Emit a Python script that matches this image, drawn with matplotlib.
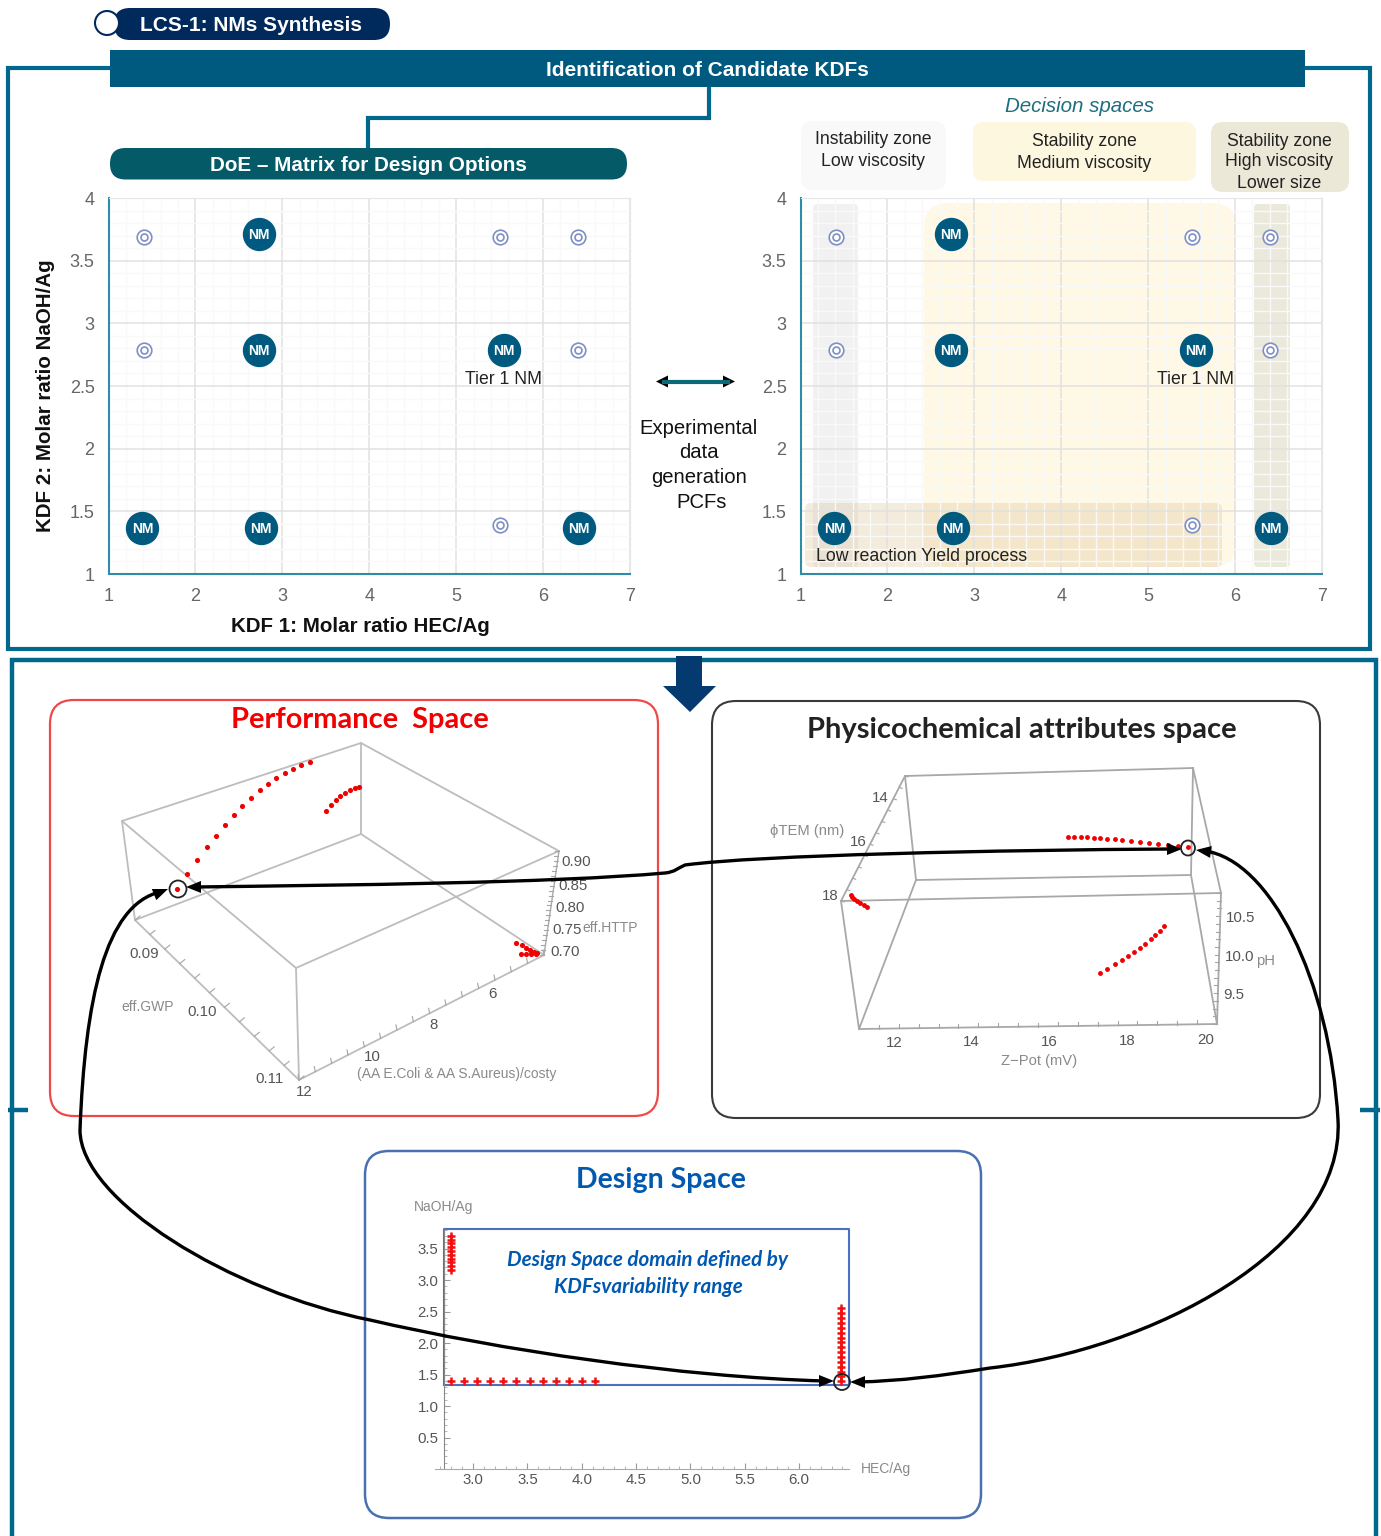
"""
LCS-1 figure: DoE matrix, decision spaces and the linked performance,
physicochemical and design spaces
"""

import matplotlib
matplotlib.use('Agg')
import matplotlib.pyplot as plt
import numpy as np
from matplotlib.patches import Circle, Ellipse, FancyBboxPatch, PathPatch, Polygon, Rectangle
from matplotlib.path import Path
from matplotlib.ticker import MultipleLocator

plt.rcParams['font.family'] = ['Liberation Sans', 'DejaVu Sans']

W, H = 1381, 1536

TEAL = '#00688c'
BAR = '#005a80'
NAVY = '#012a5c'
PILL = '#055a68'
RING = '#7f8fc4'
GREY = '#8a8a8a'
BOX = '#bdbdbd'

# DoE matrix
nm_x = [2.73, 2.73, 5.55, 1.39, 2.75, 6.41]
nm_y = [3.71, 2.79, 2.79, 1.37, 1.37, 1.37]
open_x = [1.41, 5.5, 6.4, 1.41, 6.4, 5.5]
open_y = [3.69, 3.69, 3.69, 2.79, 2.79, 1.39]
doe_xticks = [1, 2, 3, 4, 5, 6, 7]
doe_yticks = [1, 1.5, 2, 2.5, 3, 3.5, 4]
doe_ylabels = ['1', '1.5', '2', '2.5', '3', '3.5', '4']

# Performance space
perf_arc_x = [187, 197, 207, 216, 225, 234, 242, 251, 260, 268, 276, 285, 293, 301, 310]
perf_arc_y = [874, 860, 847, 836, 825, 815, 806, 798, 790, 784, 778, 773, 769, 765, 762]
perf_back_x = [326, 331, 336, 340, 345, 350, 355, 359]
perf_back_y = [811, 805, 800, 796, 793, 790, 788, 787]
perf_corner_x = [516, 522, 526, 530, 534, 537, 521, 526, 531, 536]
perf_corner_y = [943, 945, 948, 950, 952, 953, 954, 954, 954, 954]
perf_sel = (177, 889)

# Physicochemical space
phys_top_x = [1068, 1074, 1081, 1087, 1094, 1100, 1107, 1115, 1122, 1131, 1140, 1149, 1158, 1168, 1178, 1188]
phys_top_y = [837, 837, 837, 837, 838, 838, 839, 839, 840, 841, 842, 843, 844, 845, 846, 847]
phys_mid_x = [1100, 1107, 1115, 1122, 1128, 1134, 1140, 1145, 1151, 1155, 1160, 1164]
phys_mid_y = [973, 969, 964, 960, 956, 952, 948, 944, 939, 935, 931, 926]
phys_left_x = [851, 852, 854, 857, 860, 864, 867]
phys_left_y = [895, 897, 899, 901, 903, 905, 907]

# Design space
ds_col1_x = [2.80] * 10
ds_col1_y = [3.70, 3.64, 3.58, 3.52, 3.46, 3.40, 3.34, 3.28, 3.22, 3.16]
ds_row_x = [2.80, 2.92, 3.04, 3.16, 3.28, 3.40, 3.52, 3.64, 3.76, 3.88, 4.00, 4.12]
ds_row_y = [1.39] * 12
ds_col2_x = [6.39] * 16
ds_col2_y = [1.39, 1.47, 1.54, 1.62, 1.70, 1.78, 1.85, 1.93, 2.01, 2.08, 2.16, 2.24, 2.31, 2.39, 2.47, 2.55]
ds_xticks = [3.0, 3.5, 4.0, 4.5, 5.0, 5.5, 6.0]
ds_yticks = [0.5, 1.0, 1.5, 2.0, 2.5, 3.0, 3.5]
ds_box_x = [2.733, 6.46]
ds_box_y = [1.33, 3.81]


def px_axes(x0, y0, x1, y1, zorder=1):
    ax = fig.add_axes([x0 / W, 1 - y1 / H, (x1 - x0) / W, (y1 - y0) / H], zorder=zorder)
    ax.patch.set_alpha(0)
    return ax


def rounded(ax, x0, y0, x1, y1, r, **kw):
    patch = FancyBboxPatch((x0 + r, y0 + r), x1 - x0 - 2 * r, y1 - y0 - 2 * r,
                           boxstyle=f'round,pad={r},rounding_size={r}', **kw)
    ax.add_patch(patch)
    return patch


def polyline(ax, pts, color=TEAL, lw=3.0, **kw):
    ax.plot([p[0] for p in pts], [p[1] for p in pts], color=color, lw=lw,
            solid_capstyle='butt', solid_joinstyle='miter', **kw)


def doe_panel(ax):
    ax.set_xlim(1, 7)
    ax.set_ylim(1, 4)
    ax.set_xticks(doe_xticks)
    ax.set_yticks(doe_yticks)
    ax.set_yticklabels(doe_ylabels)
    ax.xaxis.set_minor_locator(MultipleLocator(0.2))
    ax.yaxis.set_minor_locator(MultipleLocator(0.1))
    ax.grid(True, which='major', color='#e1e1e1', lw=1.1)
    ax.grid(True, which='minor', color='#f9f9f9', lw=1.0)
    ax.set_axisbelow(True)
    ax.tick_params(which='both', length=0, labelcolor='#666666', labelsize=13)
    ax.tick_params(axis='x', pad=10)
    ax.tick_params(axis='y', pad=10)
    for side in ['top', 'right']:
        ax.spines[side].set_color('#e6e6e6')
    for side in ['left', 'bottom']:
        ax.spines[side].set_color('#2e8ca8')
        ax.spines[side].set_linewidth(1.5)

    ax.plot(open_x, open_y, 'o', ms=10.5, mfc='white', mec=RING, mew=1.2, ls='none', clip_on=False)
    ax.plot(open_x, open_y, 'o', ms=5, mfc='none', mec=RING, mew=1.2, ls='none', clip_on=False)
    ax.plot(nm_x, nm_y, 'o', ms=23, color=BAR, mec=BAR, ls='none', clip_on=False)
    for x, y in zip(nm_x, nm_y):
        ax.text(x, y - 0.008, 'NM', ha='center', va='center', color='white', fontsize=10, fontweight='bold')
    ax.text(nm_x[2] - 0.01, 2.555, 'Tier 1 NM', ha='center', va='center', fontsize=12.7, color='#222222')


def box_edges(ax, edges, color=BOX, lw=1.3):
    for a, b in edges:
        ax.plot([a[0], b[0]], [a[1], b[1]], color=color, lw=lw, solid_capstyle='round')


def edge_ticks(ax, a, b, n, offset, lw=0.8, color='#a5a5a5'):
    a = np.array(a, float)
    b = np.array(b, float)
    for t in np.linspace(0, 1, n):
        p = a + (b - a) * t
        ax.plot([p[0], p[0] + offset[0]], [p[1], p[1] + offset[1]], color=color, lw=lw)


def arrow_head(ax, tip, towards, length=15, width=6):
    tip = np.array(tip, float)
    d = np.array(towards, float) - tip
    d = d / np.hypot(*d)
    n = np.array([-d[1], d[0]])
    base = tip + d * length
    ax.add_patch(Polygon([tip, base + n * width, base - n * width], closed=True, color='black', lw=0))


def curve(ax, verts):
    codes = [Path.MOVETO] + [Path.CURVE4] * (len(verts) - 1)
    ax.add_patch(PathPatch(Path(verts, codes), fc='none', ec='black', lw=2.4, capstyle='round'))


def labels(ax, items, color='#555555', size=10.8):
    for x, y, s in items:
        ax.text(x, y + 1, s, ha='center', va='center', color=color, fontsize=size)


fig = plt.figure(figsize=(W / 100, H / 100), dpi=100, facecolor='white')

bg = fig.add_axes([0, 0, 1, 1], zorder=0)
bg.set_xlim(0, W)
bg.set_ylim(H, 0)
bg.axis('off')

over = fig.add_axes([0, 0, 1, 1], zorder=5)
over.set_xlim(0, W)
over.set_ylim(H, 0)
over.axis('off')
over.patch.set_alpha(0)

# top frame and headers
polyline(bg, [(110, 68), (8.5, 68), (8.5, 649), (1370, 649), (1370, 68), (1305, 68)])
bg.add_patch(Rectangle((110, 50), 1195, 37, color=BAR, lw=0, zorder=3))
bg.text(707, 70, 'Identification of Candidate KDFs', ha='center', va='center', color='white',
        fontsize=15, fontweight='bold', zorder=4)
rounded(bg, 114, 8, 390, 40, 15.9, fc=NAVY, ec='none')
bg.add_patch(Circle((107, 23), 12, fc='white', ec=NAVY, lw=1.5, zorder=3))
bg.text(251, 25.5, 'LCS-1: NMs Synthesis', ha='center', va='center', color='white',
        fontsize=15, fontweight='bold')
polyline(bg, [(709, 87), (709, 118), (368, 118), (368, 148)])
rounded(bg, 110, 148, 627, 179.5, 15.5, fc=PILL, ec='none')
bg.text(368.5, 165.5, 'DoE – Matrix for Design Options', ha='center', va='center', color='white',
        fontsize=14.9, fontweight='bold')

# decision zones
bg.text(1080, 107, 'Decision spaces', ha='center', va='center', color='#1f6e80', fontsize=14.8, style='italic')
rounded(bg, 801, 121, 946, 190, 12, fc='#f9f9f9', ec='none')
rounded(bg, 973, 122, 1196, 181, 10, fc='#fef7e0', ec='none')
rounded(bg, 1211, 122, 1349, 192, 12, fc='#ebe8d8', ec='none')
labels(bg, [(873, 139, 'Instability zone'), (873, 160, 'Low viscosity'),
            (1084, 141, 'Stability zone'), (1084, 162, 'Medium viscosity'),
            (1279, 140, 'Stability zone'), (1279, 161, 'High viscosity'),
            (1279, 183, 'Lower size')], color='#222222', size=12.7)

rounded(bg, 813, 204, 858, 567, 4, fc='#f1f1f1', ec='none', zorder=1)
rounded(bg, 924, 203, 1236, 567, 24, fc='#fff8e4', ec='none', zorder=1)
rounded(bg, 1254, 204, 1290, 567, 4, fc='#ebe9dc', ec='none', zorder=1)
rounded(bg, 805, 503, 1222, 567, 6, fc='#d8bf8e', ec='none', alpha=0.3, zorder=2)

ax_left = px_axes(108.5, 198, 630, 574)
doe_panel(ax_left)
ax_right = px_axes(800.5, 198, 1322, 574)
doe_panel(ax_right)
ax_right.text(1.18, 1.14, 'Low reaction Yield process', ha='left', va='center', fontsize=12.8, color='#222222')

bg.text(46, 395.5, 'KDF 2: Molar ratio NaOH/Ag', rotation=90, ha='center', va='center', fontsize=14.8, fontweight='bold', color='#111111')
bg.text(360, 626, 'KDF 1: Molar ratio HEC/Ag', ha='center', va='center', fontsize=14.8, fontweight='bold', color='#111111')

bg.plot([664, 728], [381.5, 381.5], color='#0b6a78', lw=3)
arrow_head(bg, (656, 381.5), (728, 381.5), length=12, width=6)
arrow_head(bg, (735, 381.5), (664, 381.5), length=12, width=6)
for y, s, x in [(428.5, 'Experimental', 699), (452.5, 'data', 699), (477.5, 'generation', 699), (502.5, 'PCFs', 702)]:
    bg.text(x, y, s, ha='center', va='center', fontsize=14.6, color='#111111')

# lower frame
polyline(bg, [(12, 1536), (12, 659.5), (1376, 659.5), (1376, 1536)], lw=3.2)
polyline(bg, [(8, 1110), (28, 1110)], lw=3.2)
polyline(bg, [(1360, 1110), (1380, 1110)], lw=3.2)
bg.add_patch(Polygon([(676, 656), (702, 656), (702, 686), (716, 686), (690, 712), (663, 686), (676, 686)],
                     closed=True, color='#053a70', lw=0, zorder=3))

rounded(bg, 50, 700, 658, 1116, 24, fc='none', ec='#f04848', lw=1.6)
rounded(bg, 712, 701, 1320, 1118, 24, fc='none', ec='#3a3a3a', lw=1.5)
rounded(bg, 365, 1151, 981, 1518, 24, fc='none', ec='#4a70b0', lw=1.8)
bg.text(360, 720, 'Performance  Space', ha='center', va='center', color='#f00000', fontsize=20.9,
        fontweight='bold', family='Lato', zorder=4)
bg.text(1022, 730, 'Physicochemical attributes space', ha='center', va='center', color='#222222', fontsize=21,
        fontweight='bold', family='Lato')
bg.text(661, 1180, 'Design Space', ha='center', va='center', color='#0058b0', fontsize=20.5,
        fontweight='bold', family='Lato')

# performance box
A, B, C, D = (122, 821), (361, 743), (559, 851), (296, 968)
E, F, G, K = (135, 920), (361, 834), (544, 955), (299, 1080)
box_edges(bg, [(A, B), (B, C), (C, D), (D, A), (E, F), (F, G), (G, K), (K, E), (A, E), (B, F), (D, K)])
box_edges(bg, [(C, G)], color='#aaaaaa', lw=1.0)
edge_ticks(bg, K, E, 12, (5, -4))
edge_ticks(bg, K, G, 16, (-1, -5))
edge_ticks(bg, C, G, 22, (-4, 0))
labels(bg, [(576, 861, '0.90'), (573, 885, '0.85'), (570, 907, '0.80'), (567, 929, '0.75'), (565, 951, '0.70'),
            (144, 953, '0.09'), (202, 1011, '0.10'), (270, 1078, '0.11'),
            (304, 1091, '12'), (372, 1056, '10'), (434, 1024, '8'), (492, 993, '6')])
labels(bg, [(610, 927, 'eff.HTTP'), (148, 1006, 'eff.GWP'), (457, 1073, '(AA E.Coli & AA S.Aureus)/costy')],
       color=GREY, size=10)
for xs, ys in [(perf_arc_x, perf_arc_y), (perf_back_x, perf_back_y), (perf_corner_x, perf_corner_y)]:
    bg.plot(xs, ys, 'o', ms=3.7, color='#f00000', mew=0, ls='none', zorder=4)
bg.plot(*perf_sel, 'o', ms=3.7, color='#f00000', mew=0, zorder=4)

# physicochemical box
P, Q = (905, 776), (1193, 768)
R, S = (841, 901), (1221, 893)
T, U = (916, 880), (1191, 875)
V, X = (859, 1029), (1217, 1024)
box_edges(bg, [(P, Q), (P, R), (Q, S), (R, S), (R, V), (S, X), (V, X), (P, T), (Q, U), (T, U), (T, V), (U, X)],
          color='#a8a8a8', lw=1.3)
edge_ticks(bg, V, X, 19, (0, -4))
edge_ticks(bg, S, X, 18, (-4, 0))
edge_ticks(bg, R, P, 12, (3, 1))
labels(bg, [(880, 797, '14'), (858, 841, '16'), (830, 895, '18'),
            (894, 1042, '12'), (971, 1041, '14'), (1049, 1041, '16'), (1127, 1040, '18'), (1206, 1039, '20'),
            (1241, 917, '10.5'), (1240, 956, '10.0'), (1234, 994, '9.5')])
labels(bg, [(807, 830, '\u03d5TEM (nm)'), (1039, 1060, 'Z\u2212Pot (mV)'), (1266, 960, 'pH')], color=GREY, size=10.6)
for xs, ys in [(phys_top_x, phys_top_y), (phys_mid_x, phys_mid_y), (phys_left_x, phys_left_y)]:
    bg.plot(xs, ys, 'o', ms=3.5, color='#f00000', mew=0, ls='none', zorder=4)

# design space
ax_ds = px_axes(435, 1229, 849, 1469)
ax_ds.set_xlim(2.65, 6.46)
ax_ds.set_ylim(0, 3.81)
ax_ds.spines['top'].set_visible(False)
ax_ds.spines['right'].set_visible(False)
ax_ds.spines['left'].set_position(('data', 2.733))
ax_ds.spines['left'].set_color('#888888')
ax_ds.spines['bottom'].set_color('#aaaaaa')
ax_ds.set_xticks(ds_xticks)
ax_ds.set_xticklabels([f'{v:.1f}' for v in ds_xticks])
ax_ds.set_yticks(ds_yticks)
ax_ds.set_yticklabels([f'{v:.1f}' for v in ds_yticks])
ax_ds.xaxis.set_minor_locator(MultipleLocator(0.1))
ax_ds.yaxis.set_minor_locator(MultipleLocator(0.1))
ax_ds.tick_params(which='major', direction='in', length=4, color='#999999', labelcolor='#555555', labelsize=10.8)
ax_ds.tick_params(which='minor', direction='in', length=2, color='#aaaaaa')
ax_ds.tick_params(axis='x', which='major', pad=3)
ax_ds.tick_params(axis='y', which='major', pad=4)
ax_ds.plot([ds_box_x[0], ds_box_x[1], ds_box_x[1], ds_box_x[0], ds_box_x[0]],
           [ds_box_y[0], ds_box_y[0], ds_box_y[1], ds_box_y[1], ds_box_y[0]],
           color='#4a70c0', lw=1.5, clip_on=False)
for xs, ys in [(ds_col1_x, ds_col1_y), (ds_row_x, ds_row_y), (ds_col2_x, ds_col2_y)]:
    ax_ds.plot(xs, ys, '+', ms=5.5, mew=1.8, color='#f01010', ls='none')
labels(bg, [(444, 1206, 'NaOH/Ag'), (886, 1468, 'HEC/Ag')], color=GREY, size=10)
for y, s in [(1260, 'Design Space domain defined by'), (1287, 'KDFsvariability range')]:
    bg.text(648, y, s, ha='center', va='center', color='#0058b0', fontsize=14.9, fontweight='bold',
            style='italic', family='Lato')

# linking curves
curve(over, [(195, 887), (350, 885), (550, 883), (665, 873), (675, 872), (678, 868), (685, 865),
             (760, 855), (1000, 850), (1172, 849)])
arrow_head(over, (186, 887), (200, 887))
arrow_head(over, (1182, 849), (1168, 849))

curve(over, [(160, 892), (105, 905), (85, 1000), (80, 1130), (80, 1200), (230, 1292), (370, 1320),
             (500, 1350), (680, 1377), (825, 1381)])
arrow_head(over, (168, 889), (153, 895))
arrow_head(over, (834, 1381), (820, 1381))

curve(over, [(1205, 851), (1270, 860), (1330, 980), (1338, 1120), (1345, 1250), (1150, 1350), (990, 1368),
             (940, 1376), (900, 1381), (858, 1382)])
arrow_head(over, (1196, 850), (1211, 852))
arrow_head(over, (850, 1382), (864, 1382))

over.add_patch(Ellipse((178, 889), 17, 17, fc='none', ec='#222222', lw=1.3))
over.add_patch(Ellipse((1188, 848), 14, 15, fc='none', ec='#222222', lw=1.3))
over.add_patch(Ellipse((842, 1382), 16, 16, fc='none', ec='#222222', lw=1.3))

fig.savefig('out.png', dpi=100)
